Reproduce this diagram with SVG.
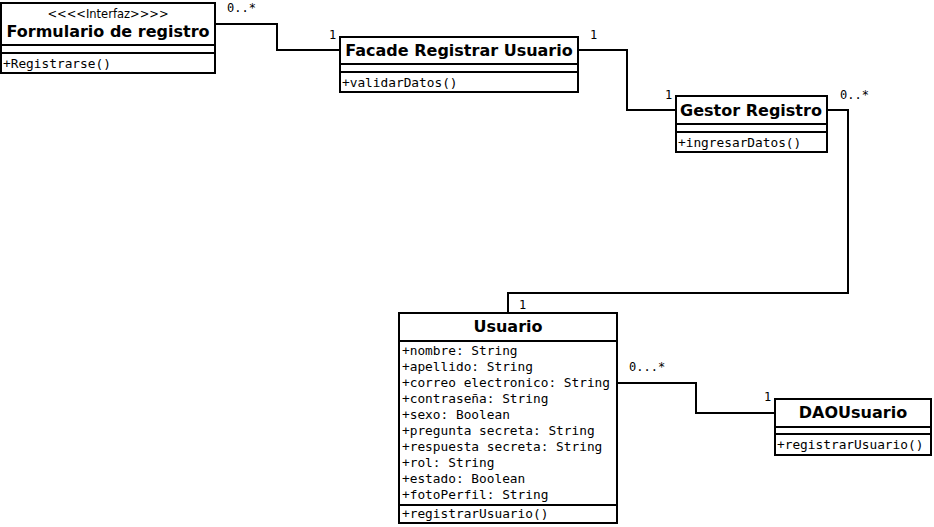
<svg xmlns="http://www.w3.org/2000/svg" width="934" height="527" viewBox="0 0 934 527">
<style>
.box{fill:#fff;stroke:#000;stroke-width:2}
.ln{fill:none;stroke:#000;stroke-width:2}
.t{font-family:"DejaVu Sans",sans-serif;font-weight:bold;font-size:16px;text-anchor:middle}
.st{font-family:"DejaVu Sans",sans-serif;font-size:11.5px;text-anchor:middle}
.m{font-family:"DejaVu Sans Mono",monospace;font-size:12.8px}
.lb{font-family:"DejaVu Sans Mono",monospace;font-size:12px}
</style>
<rect width="934" height="527" fill="#fff"/>
<g id="connectors">
<polyline class="ln" points="215,24 277,24 277,50 341,50"/>
<polyline class="ln" points="578,50 627,50 627,110 677,110"/>
<polyline class="ln" points="827,110 848,110 848,293 508,293 508,313"/>
<polyline class="ln" points="617,383 696,383 696,413 775,413"/>
<text class="lb" x="227" y="12">0..*</text>
<text class="lb" x="329" y="39">1</text>
<text class="lb" x="590" y="39">1</text>
<text class="lb" x="665" y="99">1</text>
<text class="lb" x="840" y="99">0..*</text>
<text class="lb" x="519" y="309">1</text>
<text class="lb" x="629" y="371">0...*</text>
<text class="lb" x="764" y="401">1</text>
</g>
<g id="formulario">
<rect class="box" x="1" y="3" width="214" height="70"/>
<line class="ln" x1="1" y1="45" x2="215" y2="45"/>
<line class="ln" x1="1" y1="53" x2="215" y2="53"/>
<text class="st" x="108" y="18">&lt;&lt;&lt;&lt;Interfaz&gt;&gt;&gt;&gt;</text>
<text class="t" x="108" y="37">Formulario de registro</text>
<text class="m" x="3" y="68">+Registrarse()</text>
</g>
<g id="facade">
<rect class="box" x="340" y="37" width="238" height="55"/>
<line class="ln" x1="340" y1="64" x2="578" y2="64"/>
<line class="ln" x1="340" y1="72" x2="578" y2="72"/>
<text class="t" x="459" y="56">Facade Registrar Usuario</text>
<text class="m" x="342" y="87">+validarDatos()</text>
</g>
<g id="gestor">
<rect class="box" x="676" y="96" width="151" height="56"/>
<line class="ln" x1="676" y1="124" x2="827" y2="124"/>
<line class="ln" x1="676" y1="132" x2="827" y2="132"/>
<text class="t" x="751" y="116">Gestor Registro</text>
<text class="m" x="678" y="147">+ingresarDatos()</text>
</g>
<g id="usuario">
<rect class="box" x="399" y="313" width="218" height="210"/>
<line class="ln" x1="399" y1="341" x2="617" y2="341"/>
<line class="ln" x1="399" y1="505" x2="617" y2="505"/>
<text class="t" x="508" y="332">Usuario</text>
<text class="m" x="402" y="355">+nombre: String</text>
<text class="m" x="402" y="371">+apellido: String</text>
<text class="m" x="402" y="387">+correo electronico: String</text>
<text class="m" x="402" y="403">+contraseña: String</text>
<text class="m" x="402" y="419">+sexo: Boolean</text>
<text class="m" x="402" y="435">+pregunta secreta: String</text>
<text class="m" x="402" y="451">+respuesta secreta: String</text>
<text class="m" x="402" y="467">+rol: String</text>
<text class="m" x="402" y="483">+estado: Boolean</text>
<text class="m" x="402" y="499">+fotoPerfil: String</text>
<text class="m" x="402" y="518">+registrarUsuario()</text>
</g>
<g id="daousuario">
<rect class="box" x="775" y="399" width="156" height="56"/>
<line class="ln" x1="775" y1="427" x2="931" y2="427"/>
<line class="ln" x1="775" y1="434" x2="931" y2="434"/>
<text class="t" x="853" y="418">DAOUsuario</text>
<text class="m" x="777" y="449">+registrarUsuario()</text>
</g>
</svg>
